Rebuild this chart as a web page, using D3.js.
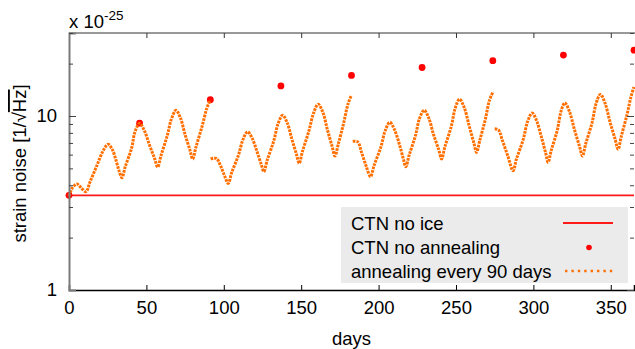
<!DOCTYPE html>
<html lang="en">
<head>
<meta charset="utf-8">
<title>strain noise vs days</title>
<script src="https://cdn.jsdelivr.net/npm/d3@7"></script>
<style>
  body { margin: 0; background: #fff; }
  text { font-family: "Liberation Sans", Arial, sans-serif; fill: #000; }
</style>
</head>
<body>
<script>
// CTN no ice (constant level)
var noIceLevel = 3.5;

// CTN no annealing (red points)
var noAnnealDays = [0, 45.6, 91.3, 136.9, 182.5, 228.1, 273.8, 319.4, 365];
var noAnnealNoise = [3.5, 9.1, 12.4, 14.9, 17.1, 19.0, 20.8, 22.4, 23.9];

// annealing every 90 days (null = break between cycles)
var annealDays = [
  0, 2.5, 5.2, 8, 11, 13.5, 18, 22, 25.2, 28, 30.5, 32.5, 34.2, 36.3, 40.5, 42.6, 45.6,
  48.6, 52, 55.2, 57.3, 59.4, 63.5, 66.1, 69.1, 72, 75, 78, 79.9, 82, 86, 89, 91.3,
  null,
  91.5, 93.5, 95.3, 98, 100.5, 102.9, 105, 109.5, 112.4, 115.4, 118.3, 121.5, 124.2, 125.9,
  128, 132.3, 135, 138, 141, 144, 147, 148.7, 150.8, 155, 158, 161, 164, 167, 170, 171.8,
  174, 177.5, 180.2, 182.5,
  null,
  183.3, 186.5, 189, 192, 194.8, 197, 201.5, 204.3, 207.3, 210.2, 213.5, 216, 217.6,
  219.7, 223.8, 226.4, 229.4, 232.4, 235.5, 238.8, 240.7, 242.8, 247, 249.5, 252.3,
  255.3, 258.5, 261.5, 263.3, 265.4, 269, 271.6, 274,
  null,
  275, 277.5, 280, 283.5, 286.9, 289, 293.5, 296.2, 299.2, 302.1, 305.3, 308, 309.5,
  311.5, 315.5, 317.8, 320.3, 323.3, 326.5, 329.8, 331.7, 333.8, 338, 340.5, 343.3,
  346.3, 349.5, 352.8, 354.7, 356.8, 360.5, 363, 365
];
var annealNoise = [
  3.47, 3.9, 4.07, 3.85, 3.67, 4.16, 5.19, 6.30, 6.88, 6.41, 5.52, 4.80, 4.42, 5.10, 6.57, 8.10, 9.08,
  8.28, 6.81, 5.73, 5.09, 5.91, 7.73, 9.57, 10.8, 9.74, 7.82, 6.43, 5.66, 6.62, 8.74, 11.06, 12.4,
  null,
  5.66, 5.72, 5.7, 5.16, 4.53, 4.10, 4.70, 5.97, 7.33, 8.12, 7.46, 6.23, 5.27, 4.79,
  5.56, 7.21, 8.99, 10.1, 9.12, 7.35, 6.00, 5.35, 6.25, 8.22, 10.4, 11.7, 10.5, 8.30, 6.68, 5.89,
  6.92, 9.16, 11.7, 13.2,
  null,
  7.15, 7.1, 6.18, 5.14, 4.48, 5.17, 6.65, 8.25, 9.2, 8.37, 6.85, 5.67, 5.11,
  5.94, 7.71, 9.65, 10.8, 9.74, 7.82, 6.43, 5.66, 6.64, 8.75, 11.1, 12.5,
  11.2, 8.79, 7.02, 6.18, 7.26, 9.61, 12.3, 13.8,
  null,
  8.45, 8.3, 7.23, 5.88, 4.85, 5.64, 7.37, 9.26, 10.4, 9.38, 7.50, 6.10, 5.42,
  6.33, 8.33, 10.6, 11.9, 10.6, 8.37, 6.69, 5.89, 6.93, 9.22, 11.8, 13.3,
  11.85, 9.24, 7.36, 6.44, 7.65, 10.2, 12.85, 14.7
];

var xTicks = [0, 50, 100, 150, 200, 250, 300, 350];
var yTicks = [1, 10];
var yMinor = [2, 3, 4, 5, 6, 7, 8, 9, 20, 30];
var legendLabels = ["CTN no ice", "CTN no annealing", "annealing every 90 days"];

var w = 635, h = 349;
var padL = 69, padR = 634, padT = 33, padB = 290;

var svg = d3.select("body").append("svg")
  .attr("width", w)
  .attr("height", h);

var xScale = d3.scaleLinear().domain([0, 365]).range([padL, padR]);
var yScale = d3.scaleLog().domain([1, 30]).range([padB, padT]);

var plot = svg.append("g");

// CTN no ice
plot.append("line")
  .attr("x1", xScale(0)).attr("x2", xScale(365))
  .attr("y1", yScale(noIceLevel)).attr("y2", yScale(noIceLevel))
  .attr("stroke", "#ff1a1a").attr("stroke-width", 1.8);

// CTN no annealing
plot.selectAll("circle.na")
  .data(noAnnealDays)
  .enter()
  .append("circle")
  .attr("class", "na")
  .attr("cx", function(d) { return xScale(d); })
  .attr("cy", function(d, i) { return yScale(noAnnealNoise[i]); })
  .attr("r", 3.4)
  .attr("fill", "#ff0000");

// annealing every 90 days
var annealPts = annealDays.map(function(d, i) {
  return { day: d, v: annealNoise[i] };
});
var line = d3.line()
  .defined(function(d) { return d.day !== null; })
  .x(function(d) { return xScale(d.day); })
  .y(function(d) { return yScale(d.v); })
  .curve(d3.curveCatmullRom.alpha(0.5));

plot.append("path")
  .datum(annealPts)
  .attr("d", line)
  .attr("fill", "none")
  .attr("stroke", "#ff6f00")
  .attr("stroke-width", 3)
  .attr("stroke-dasharray", "2.6,1");

// axes
var xAxis = d3.axisBottom(xScale).tickValues(xTicks).tickSize(-5).tickPadding(11);
var gx = svg.append("g")
  .attr("transform", "translate(0," + padB + ")")
  .call(xAxis);
gx.select(".domain").attr("stroke", "#000").attr("stroke-width", 1.5);
gx.selectAll(".tick line").attr("stroke", "#000");
gx.selectAll("text").attr("font-size", "18.5px").attr("font-family", "Liberation Sans, Arial, sans-serif");

var xTop = d3.axisTop(xScale).tickValues(xTicks).tickSize(-5).tickFormat("");
var gt = svg.append("g")
  .attr("transform", "translate(0," + padT + ")")
  .call(xTop);
gt.select(".domain").attr("stroke", "#333").attr("d", "M" + padL + ",0H" + w);
gt.selectAll(".tick line").attr("stroke", "#333");

var yAxis = d3.axisLeft(yScale).tickValues(yTicks).tickSize(-7).tickPadding(12)
  .tickFormat(d3.format("d"));
var gy = svg.append("g")
  .attr("transform", "translate(" + padL + ",0)")
  .call(yAxis);
gy.select(".domain").attr("stroke", "#7a7a7a").attr("stroke-width", 2);
gy.selectAll(".tick line").attr("stroke", "#444");
gy.selectAll("text").attr("font-size", "18.5px").attr("font-family", "Liberation Sans, Arial, sans-serif");
gy.selectAll(".tick").filter(function(d) { return d === 1; }).select("line").remove();

var yMin = d3.axisLeft(yScale).tickValues(yMinor).tickSize(-4).tickFormat("");
var gym = svg.append("g")
  .attr("transform", "translate(" + padL + ",0)")
  .call(yMin);
gym.select(".domain").remove();
gym.selectAll(".tick line").attr("stroke", "#444");

// right side mirror ticks
var yR = d3.axisRight(yScale).tickValues(yTicks.concat(yMinor)).tickSize(-4).tickFormat("");
var gr = svg.append("g")
  .attr("transform", "translate(" + padR + ",0)")
  .call(yR);
gr.select(".domain").remove();
gr.selectAll(".tick line").attr("stroke", "#444")
  .attr("x2", function(d) { return yTicks.indexOf(d) >= 0 ? -7 : -4; });

// axis titles
svg.append("text")
  .attr("x", (padL + padR) / 2)
  .attr("y", 345)
  .attr("text-anchor", "middle")
  .attr("font-size", "18.5px")
  .text("days");

var ylab = svg.append("text")
  .attr("transform", "translate(26," + ((padT + padB) / 2 + 2) + ") rotate(-90)")
  .attr("text-anchor", "middle")
  .attr("font-size", "18.5px");
ylab.append("tspan").text("strain noise [1/\u221A");
ylab.append("tspan").style("text-decoration", "overline").text("Hz");
ylab.append("tspan").text("]");

var expo = svg.append("text")
  .attr("x", 69)
  .attr("y", 28)
  .attr("font-size", "18.5px");
expo.append("tspan").text("x 10");
expo.append("tspan").attr("dy", -8).attr("font-size", "13.5px").text("-25");

// legend
var lg = svg.append("g");
lg.append("rect")
  .attr("x", 341).attr("y", 207)
  .attr("width", 287).attr("height", 76)
  .attr("fill", "#ebebeb");

lg.selectAll("text.lt")
  .data(legendLabels)
  .enter()
  .append("text")
  .attr("class", "lt")
  .attr("x", 351)
  .attr("y", function(d, i) { return 229.5 + i * 24; })
  .attr("font-size", "18.5px")
  .text(function(d) { return d; });

lg.append("line")
  .attr("x1", 563).attr("x2", 613)
  .attr("y1", 223).attr("y2", 223)
  .attr("stroke", "#ff1a1a").attr("stroke-width", 1.8);
lg.append("circle")
  .attr("cx", 589).attr("cy", 247.5).attr("r", 2.8)
  .attr("fill", "#ff0000");
lg.append("line")
  .attr("x1", 565).attr("x2", 613)
  .attr("y1", 271).attr("y2", 271)
  .attr("stroke", "#ff6f00").attr("stroke-width", 2.6)
  .attr("stroke-dasharray", "2.4,4");
</script>
</body>
</html>
